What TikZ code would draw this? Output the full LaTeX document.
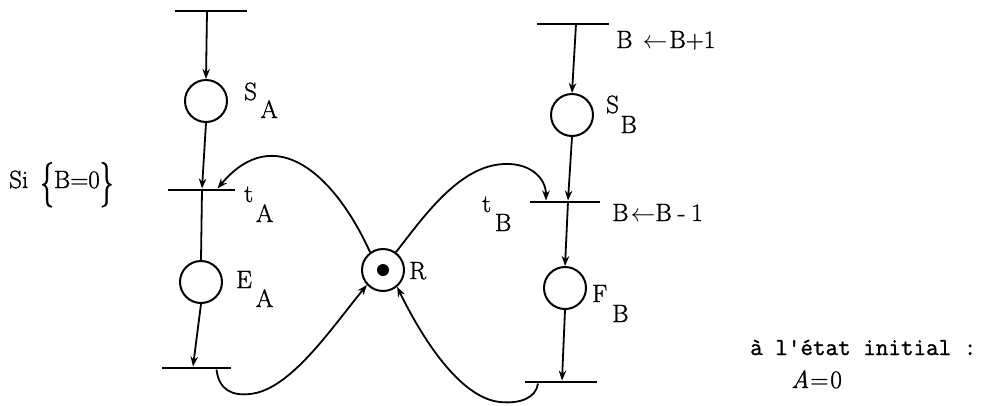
\documentclass[tikz,border=0pt]{standalone}
\usepackage{fontspec}
\usepackage{graphicx}
\newfontfamily\labfont{Latin Modern Roman}[FakeBold=1.2]
\newfontfamily\typfont{Latin Modern Mono}[FakeBold=1.2]
\usetikzlibrary{arrows.meta}
\newcommand\lsub[2][19pt]{\raisebox{-#1}{#2}}
\newcommand\tallbrace[1]{\raisebox{-8pt}{\scalebox{1.1}[1.8]{#1}}}
\tikzset{
  place/.style={circle,draw,line width=2pt,minimum size=42pt,inner sep=0pt},
  bar/.style={fill=black,minimum width=#1,minimum height=2.6pt,inner sep=0pt},
  arc/.style={line width=1.8pt,-{Stealth[length=10pt,width=7.5pt]}},
  plain/.style={line width=1.8pt},
  lbl/.style={font=\fontsize{25}{30}\selectfont\labfont,inner sep=0pt,anchor=base west},
  tlbl/.style={font=\fontsize{24.4}{29}\selectfont\typfont,inner sep=0pt,anchor=base west}
}
\begin{document}
\begin{tikzpicture}[x=1pt,y=-1pt]
\useasboundingbox (0,0) rectangle (987,405);
% places
\node[place] (SA) at (206,101) {};
\node[place] (EA) at (201,282) {};
\node[place] (SB) at (572,115) {};
\node[place] (EB) at (565,288) {};
\node[place] (R) at (383,270) {};
\fill (R.center) circle (6pt);
% transitions
\node[bar=72pt] (T1) at (211,11) {};
\node[bar=67pt] (TA) at (201.5,190) {};
\node[bar=69pt] (T3) at (196.5,368) {};
\node[bar=72pt] (T4) at (573,24) {};
\node[bar=70pt] (TB) at (565,202) {};
\node[bar=72pt] (T6) at (561,382) {};
% vertical arcs
\draw[arc] ([xshift=-4pt]T1.center) -- (SA.north);
\draw[arc] (SA.south) -- ([xshift=0.5pt]TA.north);
\draw[plain] ([xshift=0.5pt]TA.center) -- (EA.north);
\draw[arc] (EA.south) -- ([xshift=-3.5pt]T3.north);
\draw[arc] ([xshift=3pt]T4.center) -- (SB.north);
\draw[arc] (SB.south) -- ([xshift=3pt]TB.north);
\draw[arc] ([xshift=3pt]TB.center) -- (EB.north);
\draw[arc] (EB.south) -- ([xshift=1pt]T6.north);
% curved arcs through R
\draw[arc] (R.126) .. controls (335,175) and (275,120) .. ([xshift=16pt]TA.north);
\draw[arc] (R.54) .. controls (425,215) and (460,165) .. (505,164)
   .. controls (530,163) and (546,178) .. ([xshift=-19pt]TB.north);
\draw[arc] ([xshift=20pt]T3.south) .. controls (219,390) and (232,396) .. (250,394)
   .. controls (290,390) and (330,330) .. (R.223);
\draw[arc] ([xshift=-23pt]T6.south) .. controls (536,398) and (520,404) .. (500,402)
   .. controls (460,398) and (422,338) .. (R.-50);
% labels
\node[lbl] (lSA) at (244,100) {S\kern3.5pt\lsub[18pt]{A}};
\node[lbl] (ltA) at (244,202) {t\kern3pt\lsub[20pt]{A}};
\node[lbl] (lEA) at (236,288) {E\kern4pt\lsub[19pt]{A}};
\node[lbl] (lR) at (409,279) {R};
\node[lbl] (ltB) at (482,212) {t\kern4pt\lsub[19pt]{B}};
\node[lbl] (lSB) at (606,113) {S\kern1.6pt\lsub[20pt]{B}};
\node[lbl] (lFB) at (592,302) {F\kern5pt\lsub[20pt]{B}};
\node[lbl] (linc) at (616,48) {B\kern10pt$\leftarrow$\kern2pt B+1};
\node[lbl] (ldec) at (612,221) {B\kern2pt$\leftarrow$B\kern6pt-\kern6pt1};
\node[lbl] (lsi) at (9,188) {Si\kern12pt\tallbrace{\{}B=0\tallbrace{\}}};
\node[tlbl] (linit) at (750,355) {à l'état initial :};
\node[lbl] (lA0) at (791,388) {\textit{A}\kern1pt=\kern2pt0};
\end{tikzpicture}
\end{document}
